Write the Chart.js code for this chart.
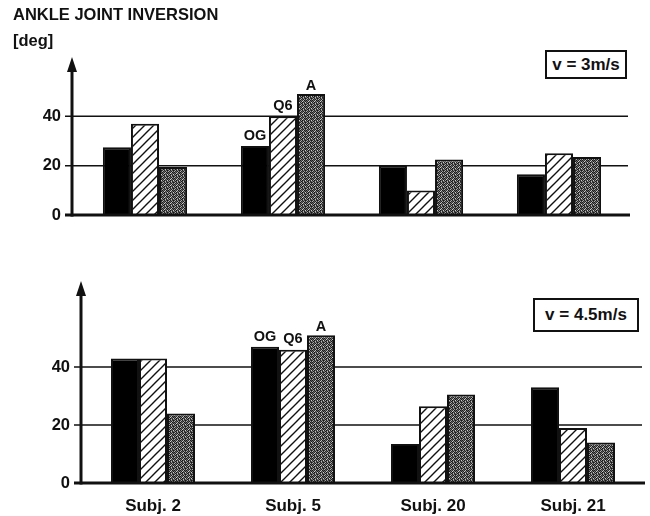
<!DOCTYPE html>
<html>
<head>
<meta charset="utf-8">
<script src="https://cdn.jsdelivr.net/npm/chart.js@4/dist/chart.umd.min.js"></script>
<style>
  html, body { margin: 0; padding: 0; background: #fff; }
  body { width: 650px; height: 516px; position: relative; overflow: hidden; font-family: 'Liberation Sans', Arial, sans-serif; }
  canvas { position: absolute; left: 0; }
  #c1 { top: 0; }
  #c2 { top: 250px; }
  .txt { position: absolute; font-weight: bold; color: #111; white-space: nowrap; }
  .box { position: absolute; border: 2px solid #111; box-sizing: border-box; font-weight: bold; color: #111; display: flex; align-items: center; justify-content: center; font-size: 17px; background: #fff; }
</style>
</head>
<body>
<canvas id="c1" width="650" height="240"></canvas>
<canvas id="c2" width="650" height="266"></canvas>
<div class="txt" style="left:13px; top:5px; font-size:16.5px;">ANKLE JOINT INVERSION</div>
<div class="txt" style="left:13px; top:31px; font-size:16.5px;">[deg]</div>
<div class="box" style="left:545px; top:50px; width:82px; height:29px;">v = 3m/s</div>
<div class="box" style="left:533px; top:298px; width:106px; height:34px;">v = 4.5m/s</div>
<script>
// ---- data ----
const categories = ['Subj. 2', 'Subj. 5', 'Subj. 20', 'Subj. 21'];
const seriesNames = ['OG', 'Q6', 'A'];
const og3 = [27.5, 28, 20, 16.5];
const q63 = [37, 40, 10, 25];
const a3 = [19.5, 49, 22.5, 23.5];
const og45 = [43, 47, 13.5, 33];
const q645 = [43, 46, 26.5, 19];
const a45 = [24, 51, 30.5, 14];
const tickVals = [0, 20, 40];
const labelledCategory = 1;

// ---- patterns ----
function hatchPattern() {
  const c = document.createElement('canvas');
  c.width = 9; c.height = 9;
  const g = c.getContext('2d');
  g.fillStyle = '#fff'; g.fillRect(0, 0, 9, 9);
  g.strokeStyle = '#111'; g.lineWidth = 1.4;
  g.beginPath();
  g.moveTo(-1, 10); g.lineTo(10, -1);
  g.moveTo(-5, 5); g.lineTo(5, -5);
  g.moveTo(4, 14); g.lineTo(14, 4);
  g.stroke();
  return g.createPattern(c, 'repeat');
}
function grayPattern() {
  const c = document.createElement('canvas');
  c.width = 6; c.height = 6;
  const g = c.getContext('2d');
  const shades = ['#222','#9a9a9a','#111','#555','#333','#ccc',
                  '#777','#1a1a1a','#444','#bbb','#222','#666',
                  '#3a3a3a','#a5a5a5','#202020','#888','#444','#151515',
                  '#b0b0b0','#2a2a2a','#5a5a5a','#1c1c1c','#9f9f9f','#333',
                  '#181818','#707070','#303030','#c0c0c0','#121212','#555',
                  '#6e6e6e','#222','#d0d0d0','#3e3e3e','#777','#1a1a1a'];
  for (let i = 0; i < 36; i++) { g.fillStyle = shades[i]; g.fillRect(i % 6, Math.floor(i / 6), 1, 1); }
  return g.createPattern(c, 'repeat');
}
const HATCH = hatchPattern();
const GRAY = grayPattern();
const FONT = "'Liberation Sans', Arial, sans-serif";

function decoPlugin(cfg) {
  return {
    id: 'deco' + cfg.id,
    beforeDatasetsDraw(chart) {
      const { ctx, scales: { y } } = chart;
      ctx.save();
      ctx.strokeStyle = '#111';
      ctx.lineWidth = 1.5;
      tickVals.forEach(v => {
        if (v === 0) return;
        const py = y.getPixelForValue(v);
        ctx.beginPath(); ctx.moveTo(cfg.tickStart, py); ctx.lineTo(cfg.gridEnd, py); ctx.stroke();
      });
      ctx.restore();
    },
    afterDatasetsDraw(chart) {
      const { ctx, chartArea: ca, scales: { y } } = chart;
      ctx.save();
      ctx.strokeStyle = '#111'; ctx.fillStyle = '#111';
      const y0 = y.getPixelForValue(0);
      ctx.lineWidth = 3;
      ctx.beginPath(); ctx.moveTo(cfg.tickStart, y0); ctx.lineTo(cfg.baseEnd, y0); ctx.stroke();
      ctx.beginPath(); ctx.moveTo(cfg.axisX, y0 + 1.5); ctx.lineTo(cfg.axisX, ca.top + 12); ctx.stroke();
      ctx.beginPath();
      ctx.moveTo(cfg.axisX, ca.top);
      ctx.lineTo(cfg.axisX - 5, ca.top + 15);
      ctx.lineTo(cfg.axisX + 5, ca.top + 15);
      ctx.closePath(); ctx.fill();
      // series labels above the labelled category
      ctx.font = 'bold 14.5px ' + FONT;
      ctx.textAlign = 'center'; ctx.textBaseline = 'bottom';
      chart.data.datasets.forEach((ds, i) => {
        const el = chart.getDatasetMeta(i).data[labelledCategory];
        ctx.fillText(seriesNames[i], el.x, el.y - (i === 2 ? 1 : 3));
      });
      ctx.restore();
    }
  };
}

function makeChart(id, og, q6, a, cfg) {
  const ds = (data, bg) => ({ data, backgroundColor: bg, borderColor: '#111', borderWidth: 2, borderSkipped: 'bottom',
    barPercentage: 1, categoryPercentage: cfg.catPct });
  return new Chart(document.getElementById(id), {
    type: 'bar',
    data: {
      labels: categories,
      datasets: [ds(og, '#000'), ds(q6, HATCH), ds(a, GRAY)]
    },
    options: {
      responsive: false,
      animation: false,
      events: [],
      layout: { padding: { top: cfg.top, right: cfg.right, left: 0, bottom: 0 } },
      plugins: { legend: { display: false }, tooltip: { enabled: false } },
      scales: {
        x: {
          grid: { display: false, drawTicks: false },
          border: { display: false },
          ticks: { display: cfg.showX, color: '#111', font: { family: FONT, size: 17, weight: 'bold' }, padding: cfg.xPad, maxRotation: 0 },
          afterFit: s => { s.height = cfg.xH; }
        },
        y: {
          min: 0, max: cfg.max,
          grid: { display: false, drawTicks: false },
          border: { display: false },
          afterBuildTicks: s => { s.ticks = tickVals.map(v => ({ value: v })); },
          ticks: { color: '#111', font: { family: FONT, size: 16.5, weight: 'bold' }, padding: cfg.yPad },
          afterFit: s => { s.width = cfg.yW; }
        }
      }
    },
    plugins: [decoPlugin(cfg)]
  });
}

makeChart('c1', og3, q63, a3, {
  id: 1, top: 57, right: 22, max: 64, catPct: 0.61, showX: false, xH: 23, xPad: 0,
  yW: 76, yPad: 15, tickStart: 65, axisX: 72, gridEnd: 628, baseEnd: 630
});
makeChart('c2', og45, q645, a45, {
  id: 2, top: 31, right: 7, max: 69.7, catPct: 0.6, showX: true, xH: 33, xPad: 13,
  yW: 83, yPad: 13, tickStart: 74, axisX: 81, gridEnd: 642, baseEnd: 645
});
</script>
</body>
</html>
